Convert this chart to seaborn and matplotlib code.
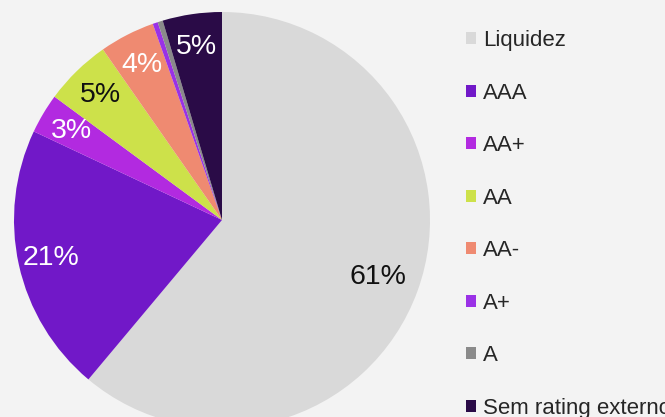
import matplotlib
matplotlib.use("Agg")
import matplotlib.pyplot as plt
from matplotlib.patches import Patch
import numpy as np
import seaborn as sns

labels = ["Liquidez", "AAA", "AA+", "AA", "AA-", "A+", "A", "Sem rating externo"]
shares = [61.1, 20.9, 3.1, 5.2, 4.3, 0.4, 0.4, 4.6]
pct_text = ["61%", "21%", "3%", "5%", "4%", "", "", "5%"]
colors = ["#d9d9d9", "#7118c8", "#b22ae0", "#cde14a", "#ef8a71", "#9a31e6", "#8a8a8a", "#2a0b47"]
text_colors = ["#111111", "white", "white", "#111111", "white", "white", "white", "white"]

sns.set_theme(style="white")
plt.rcParams["font.family"] = ["Liberation Sans", "DejaVu Sans"]
bg = "#f3f3f3"

fig = plt.figure(figsize=(6.65, 4.17), dpi=100, facecolor=bg)
# square axes, pie centred at (222, 220) px with radius 208 px
ax = fig.add_axes([14 / 665, -11 / 417, 416 / 665, 416 / 417])
ax.set_facecolor(bg)

wedges, _ = ax.pie(shares, colors=colors, startangle=90, counterclock=False,
                   radius=1, wedgeprops=dict(linewidth=0))

# percent labels inside the slices
for i, (w, t, tc) in enumerate(zip(wedges, pct_text, text_colors)):
    if not t:
        continue
    ang = np.deg2rad((w.theta1 + w.theta2) / 2)
    r = 0.8 if i == 0 else 0.84
    ax.text(r * np.cos(ang), r * np.sin(ang), t, ha="center", va="center",
            color=tc, fontsize=20.5)

ax.set_xlim(-1, 1)
ax.set_ylim(-1, 1)
ax.set_aspect("equal")
ax.axis("off")

handles = [Patch(facecolor=c, edgecolor="none") for c in colors]
fig.legend(handles, labels, loc="upper left", bbox_to_anchor=(466 / 665, 1 - 30 / 417),
           frameon=False, fontsize=16, labelspacing=1.42, handlelength=0.45,
           handleheight=0.45, handletextpad=0.3, borderaxespad=0, borderpad=0)

fig.savefig("out.png", dpi=100, facecolor=bg)
